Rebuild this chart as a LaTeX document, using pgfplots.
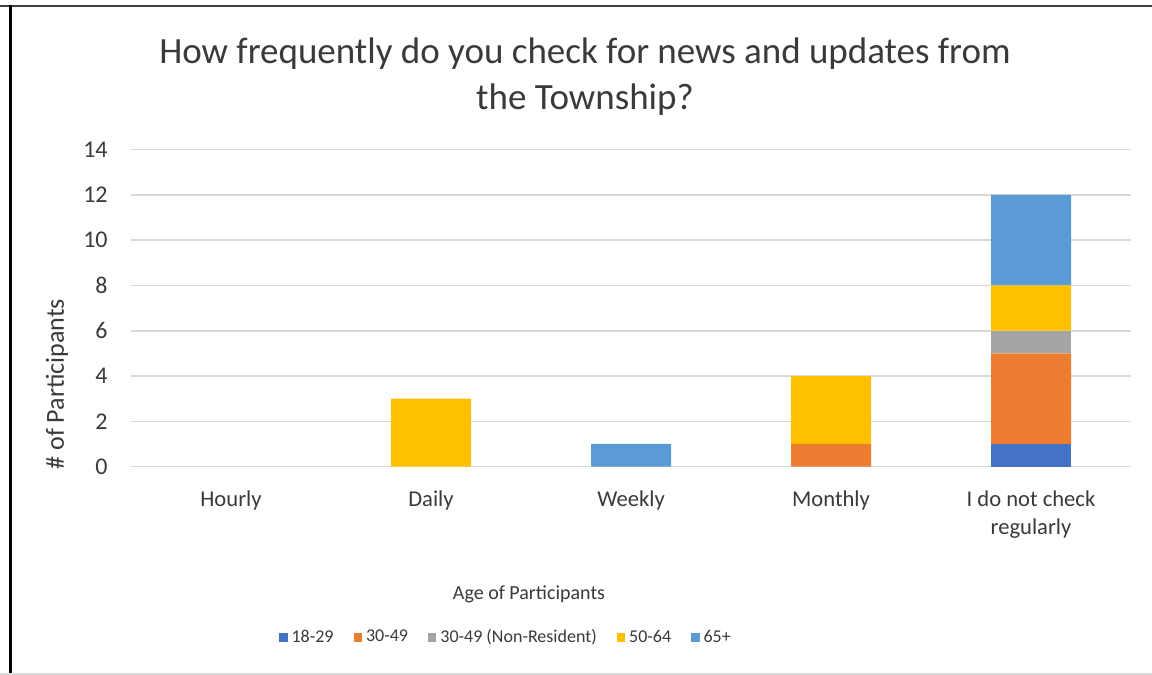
\documentclass[border=0pt]{standalone}
\usepackage{fontspec}
\setmainfont{Carlito}
\usepackage{pgfplots}
\pgfplotsset{compat=1.18}
\definecolor{cA}{HTML}{4472C4}
\definecolor{cB}{HTML}{ED7D31}
\definecolor{cC}{HTML}{A5A5A5}
\definecolor{cD}{HTML}{FFC000}
\definecolor{cE}{HTML}{5B9BD5}
\definecolor{txt}{HTML}{3A3A3A}
\definecolor{gridc}{HTML}{D9D9D9}
\begin{document}
\begin{tikzpicture}
\useasboundingbox (0,0) rectangle (576pt,337.5pt);
\fill[white] (0,0) rectangle (576pt,337.5pt);
\draw[black!75, line width=1.2pt] (0,334.5pt) -- (576pt,334.5pt);
\draw[black, line width=1.5pt] (5.2pt,0) -- (5.2pt,335pt);
\draw[gridc, line width=0.8pt] (0,0.4pt) -- (576pt,0.4pt);
\begin{axis}[
  at={(65.5pt,104.2pt)}, anchor=south west,
  scale only axis, width=500pt, height=158.5pt,
  ybar stacked, bar width=40pt,
  xmin=-0.5, xmax=4.5, ymin=0, ymax=14,
  ytick={0,2,...,14},
  xtick={0,1,2,3,4},
  xticklabels={Hourly,Daily,Weekly,Monthly,{I do not check\\regularly}},
  /pgf/number format/assume math mode=true,
  axis line style={draw=none},
  major tick length=0pt,
  xmajorgrids=false,
  ymajorgrids=true, grid style={draw=gridc, line width=0.8pt},
  yticklabel style={anchor=east, inner sep=0pt, xshift=-11.5pt, font=\fontsize{12}{14}\selectfont, text=txt},
  xticklabel style={anchor=north, inner sep=0pt, yshift=-12pt, align=center, font=\fontsize{11.3}{14}\selectfont, text=txt},
  title={How frequently do you check for news and updates from\\the Township?},
  title style={at={(axis description cs:0.454,1.193)}, anchor=center, align=center, font=\fontsize{18.5}{23}\selectfont, text=txt},
  xlabel={Age of Participants},
  xlabel style={at={(axis description cs:0.398,-0.404)}, anchor=center, font=\fontsize{10}{12}\selectfont, text=txt},
  ylabel={\# of Participants},
  ylabel style={at={(axis description cs:-0.074,0.26)}, anchor=center, font=\fontsize{13}{15}\selectfont, text=txt},
  legend columns=-1,
  legend style={at={(axis description cs:0.376,-0.539)}, anchor=center, draw=none, fill=none,
    font=\fontsize{9}{11}\selectfont, text=txt, inner sep=0pt,
    /tikz/every even column/.append style={column sep=8pt}},
  legend image code/.code={\fill[#1] (0pt,-2.1pt) rectangle (4.2pt,2.1pt);},
  every axis plot/.append style={draw=none},
]
\addplot[fill=cA] coordinates {(0,0) (1,0) (2,0) (3,0) (4,1)};
\addplot[fill=cB] coordinates {(0,0) (1,0) (2,0) (3,1) (4,4)};
\addplot[fill=cC] coordinates {(0,0) (1,0) (2,0) (3,0) (4,1)};
\addplot[fill=cD] coordinates {(0,0) (1,3) (2,0) (3,3) (4,2)};
\addplot[fill=cE] coordinates {(0,0) (1,0) (2,1) (3,0) (4,4)};
\legend{18-29,30-49,30-49 (Non-Resident),50-64,65+}
\end{axis}
\end{tikzpicture}
\end{document}
